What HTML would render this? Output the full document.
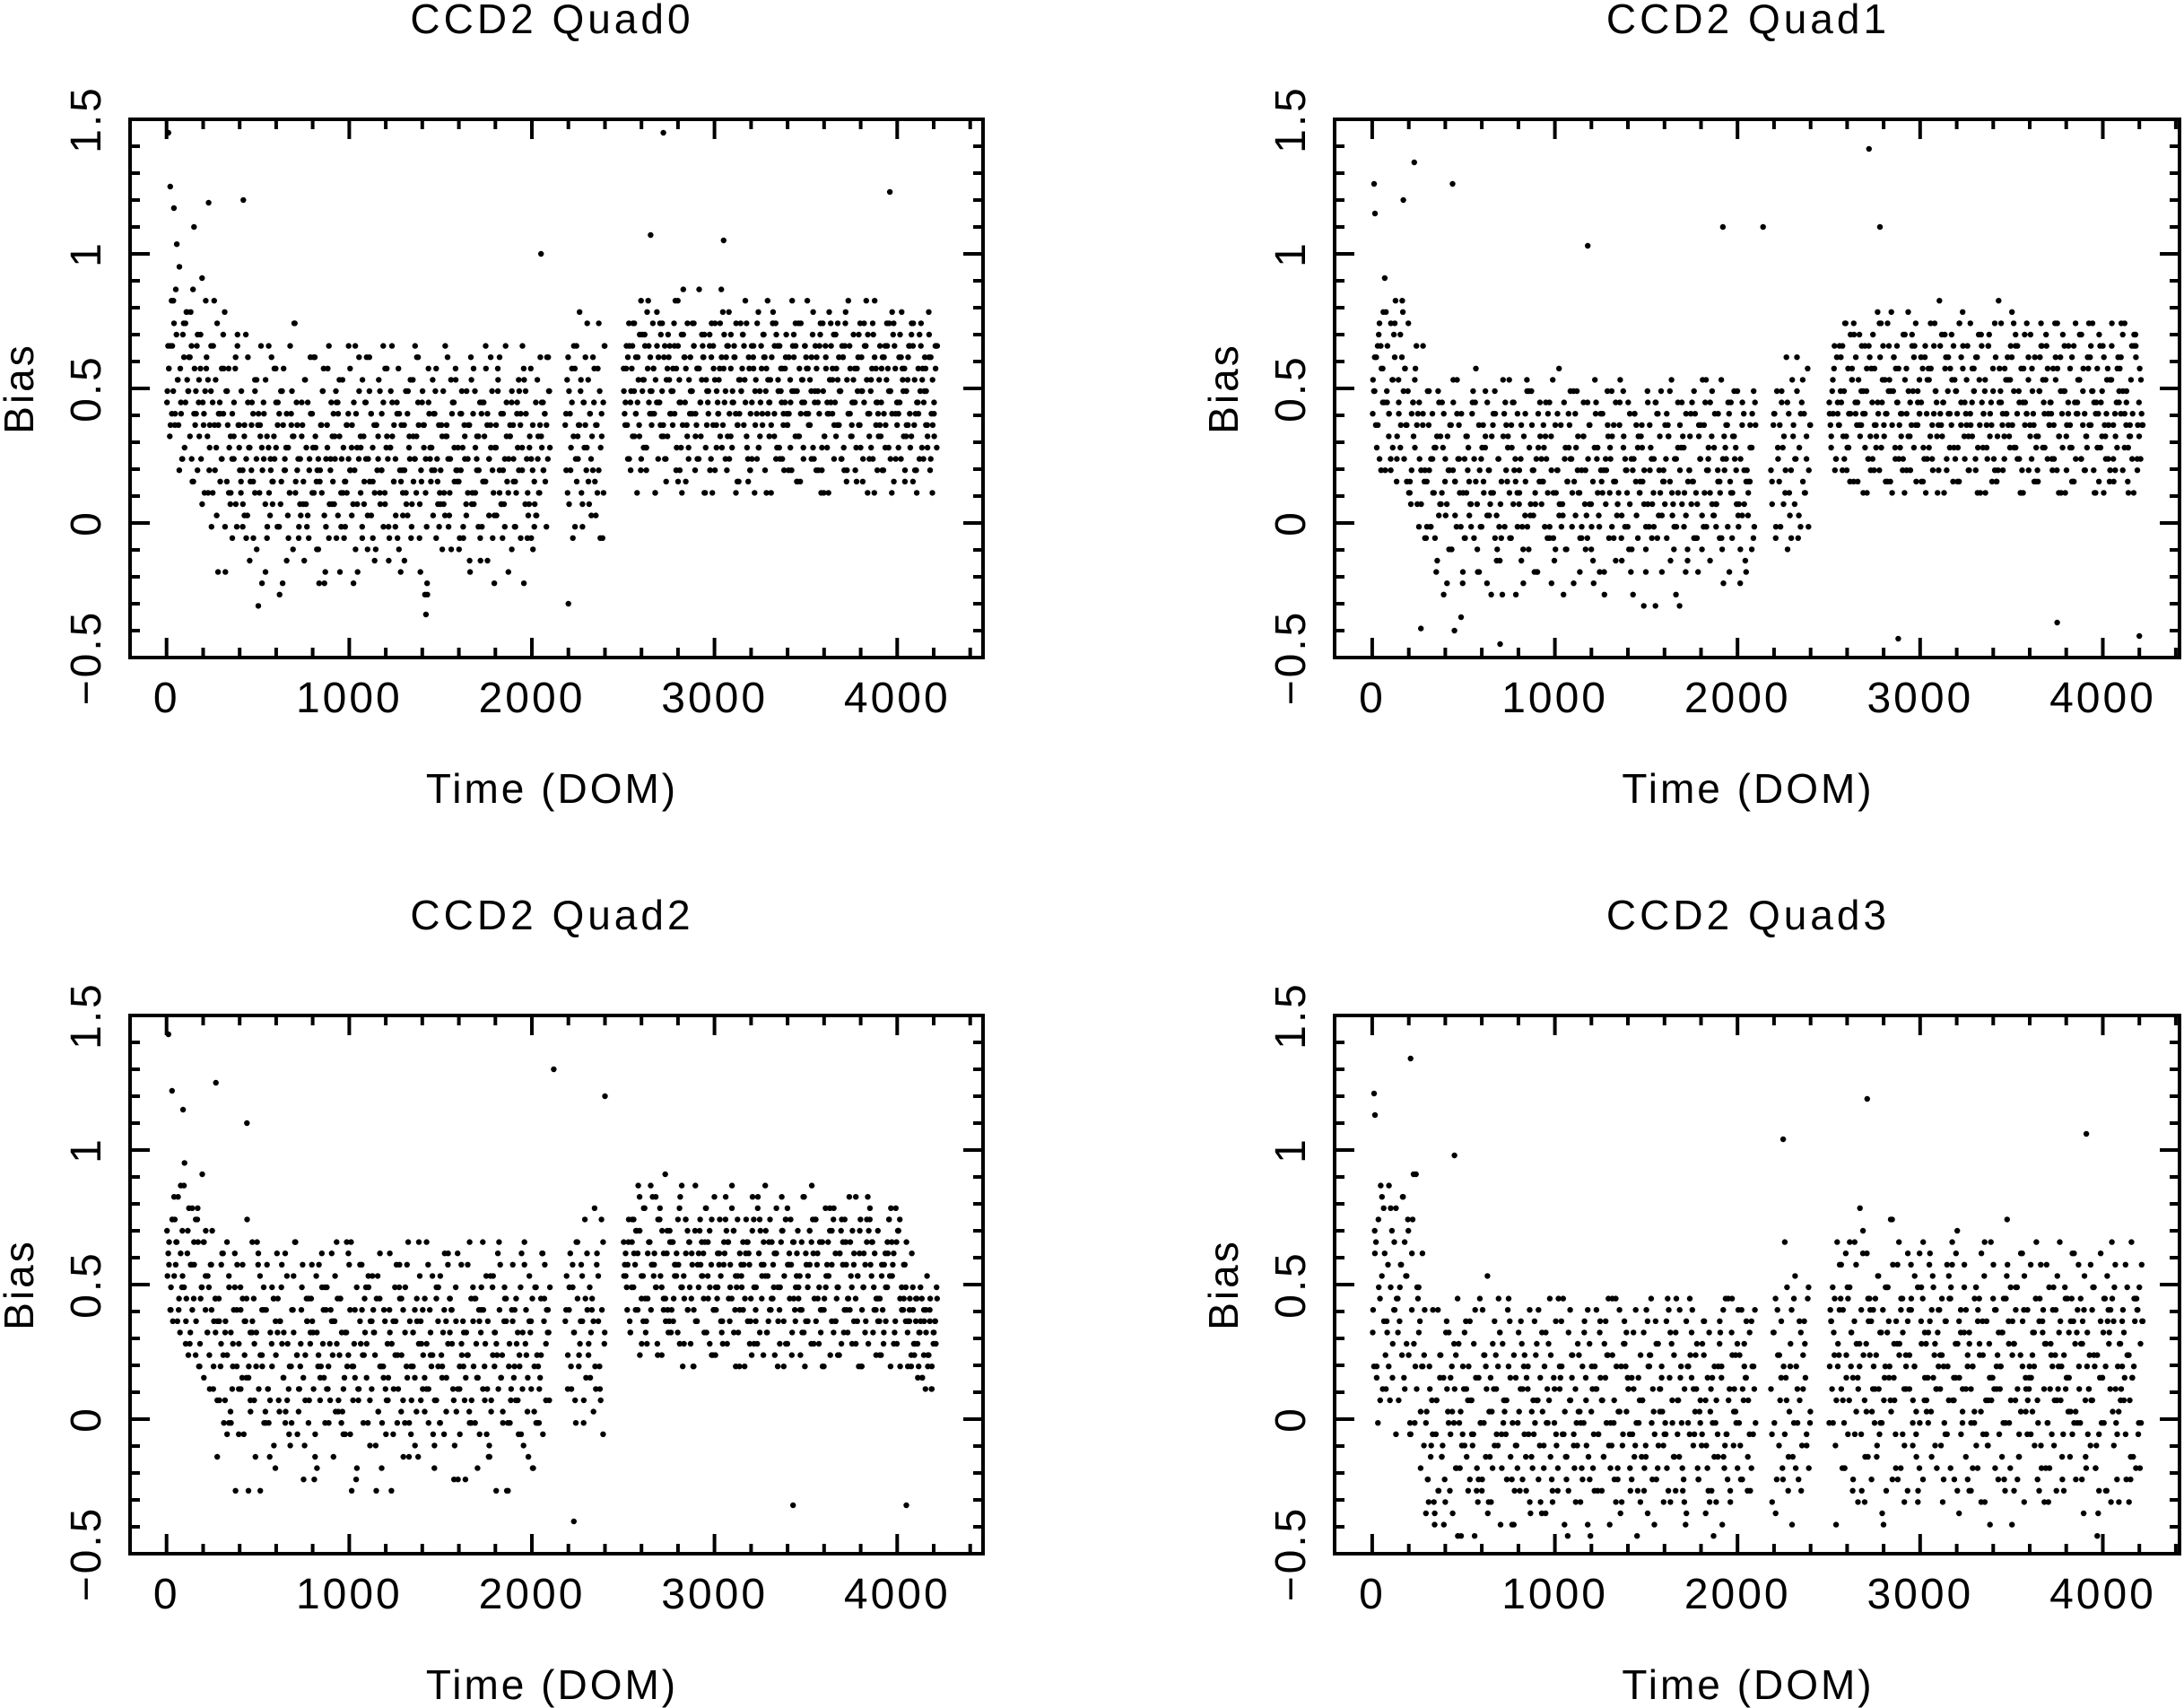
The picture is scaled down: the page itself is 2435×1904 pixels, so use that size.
<!DOCTYPE html>
<html><head><meta charset="utf-8"><style>
html,body{margin:0;padding:0;background:#fff;}
svg{display:block;}
text{font-family:"Liberation Sans",sans-serif;fill:#000;}
</style></head>
<body>
<svg id="fig" width="2435" height="1904" viewBox="0 0 2435 1904" xmlns="http://www.w3.org/2000/svg"></svg>
<script>
// y-value encoding: each character is a level 0..61 -> bias = levelBase + level*levelStep
const levelChars = "0123456789abcdefghijklmnopqrstuvwxyzABCDEFGHIJKLMNOPQRSTUVWXYZ";
const levelBase = -0.728;
const levelStep = 0.042;
const segments = [[0, 2100], [2180, 2400], [2500, 4220]];
const xTicks = [0, 1000, 2000, 3000, 4000];
const xTickLabels = ["0", "1000", "2000", "3000", "4000"];
const yTicks = [-0.5, 0, 0.5, 1, 1.5];
const yTickLabels = ["\u22120.5", "0", "0.5", "1", "1.5"];
const titles = ["CCD2 Quad0", "CCD2 Quad1", "CCD2 Quad2", "CCD2 Quad3"];

const quad0Seg = [
 ["tvxrBqyuEsnwzAtpxCvrmuyDqtwkoxsBuzrlvyAtq" + "okrnvhqmtjpyiolsgunqkxmrdpoiwlnsqhjtvmeokrpzlqgnsjuoimrkwpfnlqtchoxmjrnsipkuglqnvojmrdtkhpswnlioqfmujrxkongtplhsvmqiekroujlnpwgmtqkcsnoirvlhmpjxqnkfsoumlrtgpinqwkjomhsrlpvenqtkoiumrgjxlnpsqhkotrmvjnipgqlsukwomrhnt",
  "xpBtrGqvnzsuwAlrtypnskvuqhxmiqrnvdtkpgsjyolhqnwemrkuaqosjgxnlpvhrtcmoikqfzsnjpluhgwrkomcqtinvjslpgrdnohkxmqsfjwoulnitrgeqpkmsjvhoxlnrfdmqtipgunksjlqbhvomrtnqjfkpwiuslmogrhntqdjvkpmeslxrnogiqtwjmhskpfnlruqoctgjvmhinkpsrqwo",
  "svqxzCumryoAtwnlqxsvjrBpmtkqodsnrhlvjnpwxqkmigsoqltfrpcnuhkmjvosblqnrgxtpkmhiqejsnrowlfmkvdqgnpjtsuhklqrmicxonpgjsfwrlkqntmhvpeosqigrlkmjtnhpxwqdsonbrlumgjkqtiphnrsvlfmoqjkeurtnpghslqiwmcovkjrnpdqtlhsmgxurkonfjipqsmlwt"],
 ["qmuwjrosgxvnlpqAtkhsoqmzujrnpwsliqvmtorgkx", "rktmvphxnqujswolrimvqkzgpsx"],
 ["tqxwnsvzprkuyBtoxmvswqzruAnsytpxlvwrtqzBoxuskywvpnrtzxmqvCsuwyotrxnkvzqsupwAytmxrvoswzqlutyxBpnvrswkuzotxqymvrsuwApzotxvnrsyqwumxtzlpvrsoxwBqutynxvsrzmtpwokuxrysvzqtnwmAurxpsyvotqzwlsxurntvyBqmpxswrouvztkyxnqrswvpmtuxozlqrsvyxunwtpAmrqsxo",
  "rvnxtpzwsqmyuoAxtrvkswzpqnuyxtvrmBsoqwlzutrxpvnsywkqtmzxuorvCqswpnytxrluzvqsowmnxtrApvywkusqzrnxotvmwqrsByptzlunxvrqwosmtxkzpvrAsunyqwtxozmrvpuslwqtnxByrozkvsupmwqxtnrzvsoyAtlqwrpxumsnzvtqoywkrvx",
  "vsqzmxtrwpnuyoBrtvkxsqzwnpurtxvlmyCsqowtzrnvpxkusywqmtrzovnxApswkqrtyuzlmxvqnosrwtBpkzxyunsqvrmotwxlpzusrvqnAtwmyokxsrzvqputnwxlBrqsmvyotzxkpunwsrqvmxzotAlrswnuvpqxyzmkrtosvqwnupx"]
];
const quad1Seg = [
 ["utwqzmvsAxrnuyBpsowtvqzlmsuxr" + "njqlgtmhrkoeipsbnjmqfulhnkrdgpmijsnlfqhoktcmjprgineluhqokgsmbrjnhpltfiqmkdosjlhnrgpuekmiqjsflonhcrtkgmpjinqfloskhmrdjtgnpqlikueohmsjnbrqgkplmfthojnsrikdmqgplujnhsaopkiemrltgjqnfhsmokpirjlgunmqhdskpotjniremlqfgs",
  "tqxnvAmsrzowluyBnqtkrpvjsmxglqhnodtjkripmfsluqhcnkojrgvdmhlpsikqtenjbrmpgoslhkqfiutjmdnrploskhcgqmvjinfrtklopdhsmgqjeunirkbmpohlsjqgtnkfdmriplojhsqnkagmtljrpeihnkqsodfmjlrgpqukhnstijmlgcoqrkpnjhfsmdilotq",
  "rwoyxsDtpmuznrqAvlkjsoqh8rmhtnkgpsjolcfqmirn9kgplhtsjdnqoimbkrfhgpsluqjnkmecrhotijdlnqpgsmkfrjhbolqntimkgpfsjhcrodlmnqktgejsipmhrfnlokqadjmghsrpilnqtkfbomjhrlpsgkdniqumejohrkfpnslgtmicqjlkorh"],
 ["mjqrgtnlhsopkwfrimuqjntgohslrkpvmq", "lrhoqtjmskgpnwiruknhq"],
 ["rpuxnsqwmtzoryvlsqupxkrtnwvyqosmzuprlxtqwnsvoryumApqtxlsrwvnkuozqrtpmxysvnwrqlutozsAprxmqvtnwyksruoxpqtzlmvsrnuwpxqoyrtkmvszuqnrwpltxoryvqsmnuzpwrtkqxvolsruyntmpwqxzsrvlotkpuqmxnrswvztoqlpuryxmsnq",
  "qtvnrxspzmoruywlqtrxvnpsmqAzoxurtlkwvsqpnyrtmxozquslwrvpnxtkBqsymrvuotlzwxnqprsvmkuyotqxrlnwpszmvrquAtoxnksyrwpvqlmtzuoxrsnqwvpkytmrolxzsunqrpvwtmkoysxqrnuzlpvtwmrsoqxkynpuq",
  "sormwqtxnpvluzrsyqtokxmnvprwsqlzuAtoxnrmkvpsywqtrloxnuvmzsqrpkwtoyxnrlqvsumzptwoqxrknysvmlBtqpruowzxnsvkqrmytlopwxsunqrvzmktoxpsqwlnruyvmozqtksrxpwnvluqmosryztkpnxwqvr"]
];
const quad2Seg = [
 ["uxrzBvqsCytowAvrxnzmsDxuptvyq" + "pjsmwhqnuikrbvotlgqzmjpsexknrtivhpmsdwjqolhukfrpxnimtcjqsovkgpnlwrhtmjqeuoispkgxnrbmltjqvhpoufkrnsiwdmqjlpogtvksnrhmxqjplieuonskvrmgjtqhnpwlosrkficmvqjpnxhtsolgrkmuqejnpbwrlitqhokvmsjngpxrluqdmthknwsopj",
  "wrzuxBptCqyovszAmtxrpnvkseqowjxhpmtrgkvnsliqopwbmhrkjtfnsqvpiomhuxgkrlnqjspedvmotkhrnqxjsilpwgmockvrnthjqpfusmlkorbqnhtijpvegmrsoqklxhpnfjtumriwsocqkgnplvhjmsdqtrokfiupnxlhsbmjqrogtkvnepsihmlwqjrt",
  "yvtqzxrwuEsnpAvqxotlyukrmsqjvnpgthowmkrsqlbpxjmvunrhkeosqpitlwjgmrxnkovfshpqcumjtlrkowqisnhgpmvxjrdkonsltqupbimhrgjwokqnvsetlhmpfqxjrioknudsmhlgqvprjtwkomcnisqhlrpxjgeutmokvnqsbhrljpmwfoiqkdtnhsgvrp"],
 ["qunrwktpjxsmovqhzlrntpsqAkwumjrxo", "rktmvphxnqujswolrimvqkzgp"],
 ["uwrzpxtvyCnsuAqwxrBvtozuysDwpxrqvuzAtmswyxovrCqtzuwxpsyvnBrtwuqxzosvAyrtpwuxmzqvsBtrowyuxCpqzsvnwtrxyuoAvzpsqwtrxBmvuyozsqwtpxrAvunyzqstwoxrvpBuywsqmzrtvxoAupwsyqnrvtxzmuwqoystrvx" + "qrmtnsopqlrkunsmpqt",
  "vtxpzwyrBuqsoxCvwtzAnrsyqpxuwvBtozrxsmyqwvupAxtzrnsvqowyxtCpuzmvrsxwqyotBzvnupxrswAqtymzowvxrusnpBqtyxwzvormsuxAqpwtnyvzrsxoqBuwmtpzyvxrnqsuowtzAvpxymrsq" + "pqnrosmtlqpnrkoqs",
  "xuvqtzrwyoApsxvuBnztwqryxsvpoCuzrtwmqvyxsAuonrtwzpvBxqsymurtvwxonzqApsvyurxtwmoBqzvsnxtyurpwqvCozsxrmtuyvAqnwzpxsrtvouymwqBzxtrsnvpqwuxoAyzrvtmsw" + "oqlpsnrmqkpo"]
];
const quad3Seg = [
 ["rwmzjuAnpCtlxgsqvBkoyhrDmtpiwn" + "hcmfr9jbnelakpgiodsh7mfkbqjgrdlhcneuiaofkmpghjcsl8nfdiqkgbmrejhoclpf9kjnahgdmqsiebrlgkfnhcpj8oidmkgqbelnfhsjacrmgoikdlpf7hnjbeqmskgcoilfhdrajnpgembkqhslfiocjgn9dpkhmaeqlrfgjbsinohckmlepdgr",
  "mxhsBqkvjyrAptnluzgwoDsqmf9ckjagrle8pibmhn7dfkqjcgolasbhm9eiknfpdjgrqc8lhbomekaignjf9dphsclqbkmge7jnfaoidhlrcmgkbpjeqn8fhsdiaomlgckrbjepf9nhiqdkmagsloebjrhc8mgpkndifqjlab7hgomesckpfidnrjlbgqmh",
  "pyltCkwqmAorsjvBxungzhktdmriaeg8jbnfcqhl9kdoigpemjf7bchrnkaldqgs8oijmehbfpkcnlg9dqjraimhoebkfslg8cpjndhiamqfe7kbrgljohsdncmi9fqpkbgehlajdrmnc8ofkigqbphesjlda9mnrgkchoqfbilejmp8dgsankhrfcoqjbmk"],
 ["kaphscnfjqdmgltbiorehumkcjpfnqlgsdh", "gp9rnlcxjem8sdhqbkofti"],
 ["mqhsjovkrdngtplxiamrwjoesqkhnugprlbtmivjqcospfkwnrhmgtdqsjolviunkprfahqmstjcwolgkvrnpbmhtdsiqujfoxlkrngmpcsvhjqotkewmairlgnpsjbvqkdhtomfrupjcnkslqgwihmsorepkvjtdnbqlhmuorsfkgajqpvtnclmsrhoq",
  "rkpfxnsdhwtjmbqvlogyaisncrkeuph8mtqjzlgoxdsknbrvfmiawtcpjhqelokrnsmgvudxjlbqpitkcohmsfrnwgaqj8lvdkpmeshzotnbrcgiqukjmlpfxhsdrovakgtnjmqebslpiwhcrkoqudgnjtmf9lhpsbrkxqvciomjgnaelsdrthq",
  "hqtn8mrvjdlsxpcgokAbnewqrimsfkh9jtplzcodvnrgamqksjuebhoxlipwrtfdmkncqgjsvloy9rhpembkditqoanxgfljsrmckphbuqd8ojtenwrlgkvimscqfpaohdnrjbkxmgtliesqopvhc9jmkfrnd7gwlsbqpaithmokrlcnjxeqsgdv"]
];
// isolated outliers per quadrant: [time, bias]
const quad0OutX = [10, 20, 40, 150, 230, 420, 2720, 2650, 3960, 2200, 1420, 2050, 3050];
const quad0OutY = [1.45, 1.25, 1.17, 1.1, 1.19, 1.2, 1.45, 1.07, 1.23, -0.3, -0.34, 1.0, 1.05];
const quad1OutX = [10, 15, 230, 170, 440, 2720, 2780, 1920, 2140, 1180, 450, 700, 2880, 3750, 4200];
const quad1OutY = [1.26, 1.15, 1.34, 1.2, 1.26, 1.39, 1.1, 1.1, 1.1, 1.03, -0.4, -0.45, -0.43, -0.37, -0.42];
const quad2OutX = [10, 30, 90, 270, 2120, 2400, 440, 2230, 3430, 4050];
const quad2OutY = [1.43, 1.22, 1.15, 1.25, 1.3, 1.2, 1.1, -0.38, -0.32, -0.32];
const quad3OutX = [10, 15, 210, 2710, 3910, 2250, 450];
const quad3OutY = [1.21, 1.13, 1.34, 1.19, 1.06, 1.04, 0.98];

const quads = [
 {seg: quad0Seg, ox: quad0OutX, oy: quad0OutY},
 {seg: quad1Seg, ox: quad1OutX, oy: quad1OutY},
 {seg: quad2Seg, ox: quad2OutX, oy: quad2OutY},
 {seg: quad3Seg, ox: quad3OutX, oy: quad3OutY}
];

const NS = "http://www.w3.org/2000/svg";
const svg = document.getElementById("fig");
function mk(tag, attrs, parent) {
  const e = document.createElementNS(NS, tag);
  for (const k in attrs) e.setAttribute(k, attrs[k]);
  (parent || svg).appendChild(e);
  return e;
}
const layouts = [
  {l: 145, r: 1096, t: 133, b: 733, xmin: -200, xmax: 4470},
  {l: 1488, r: 2430, t: 133, b: 733, xmin: -206, xmax: 4420},
  {l: 145, r: 1096, t: 1132, b: 1732, xmin: -200, xmax: 4470},
  {l: 1488, r: 2430, t: 1132, b: 1732, xmin: -206, xmax: 4420}
];
const ymin = -0.5, ymax = 1.5;

quads.forEach((q, qi) => {
  const L = layouts[qi];
  const g = mk("g", {});
  
  
  const xs = v => L.l + (v - L.xmin) / (L.xmax - L.xmin) * (L.r - L.l);
  const ys = v => L.b - (v - ymin) / (ymax - ymin) * (L.b - L.t);
  const pts = mk("g", {fill: "#000"}, g);
  
  
  q.seg.forEach((layers, si) => {
    const [a, b] = segments[si];
    layers.forEach((str, li) => {
      const n = str.length;
      const phase = (0.5 + li * 0.37) % 1;
      for (let i = 0; i < n; i++) {
        const lev = levelChars.indexOf(str[i]);
        const val = levelBase + lev * levelStep;
        if (val < ymin || val > ymax) continue;
        const t = a + (i + phase) * (b - a) / n;
        const c = mk("circle", {cx: xs(t).toFixed(1), cy: ys(val).toFixed(1), r: 3.2}, pts);
        
        
      }
    });
  });
  q.ox.forEach((t, i) => {
    const c = mk("circle", {cx: xs(t).toFixed(1), cy: ys(q.oy[i]).toFixed(1), r: 3.2}, pts);
    
    
  });
  const fr = mk("rect", {x: L.l, y: L.t, width: L.r - L.l, height: L.b - L.t, fill: "none", stroke: "#000", "stroke-width": 4}, g);
  
  
  let d = "";
  for (let v = 0; v <= L.xmax; v += 200) {
    const x = xs(v).toFixed(1);
    const len = (v % 1000 === 0) ? 22 : 11;
    d += `M${x} ${L.b}v${-len}M${x} ${L.t}v${len}`;
  }
  for (let k = -5; k <= 15; k++) {
    const y = ys(k / 10).toFixed(1);
    const len = (k % 5 === 0) ? 22 : 11;
    d += `M${L.l} ${y}h${len}M${L.r} ${y}h${-len}`;
  }
  const tk = mk("path", {d: d, stroke: "#000", "stroke-width": 4, fill: "none"}, g);
  
  
  xTicks.forEach((v, i) => {
    const t = mk("text", {x: xs(v), y: L.b + 61, "font-size": 48, "text-anchor": "middle", "letter-spacing": 3}, g);
    t.textContent = xTickLabels[i];
    
    
  });
  yTicks.forEach((v, i) => {
    const y = ys(v), x = L.l - 33;
    const t = mk("text", {x: x, y: y, "font-size": 48, "text-anchor": "middle", "letter-spacing": 3, transform: `rotate(-90 ${x} ${y})`}, g);
    t.textContent = yTickLabels[i];
    
    
  });
  const cx = (L.l + L.r) / 2 + (qi % 2 ? -10 : -5);
  const tt = mk("text", {x: cx, y: L.t - 96, "font-size": 46, "text-anchor": "middle", "letter-spacing": 4}, g);
  tt.textContent = titles[qi];
  
  
  const xl = mk("text", {x: cx, y: L.b + 162, "font-size": 46, "text-anchor": "middle", "letter-spacing": 3}, g);
  xl.textContent = "Time (DOM)";
  
  
  const yx = L.l - 108, yy = (L.t + L.b) / 2;
  const yl = mk("text", {x: yx, y: yy, "font-size": 46, "text-anchor": "middle", "letter-spacing": 3, transform: `rotate(-90 ${yx} ${yy})`}, g);
  yl.textContent = "Bias";
  
  
});
</script>
</body></html>
